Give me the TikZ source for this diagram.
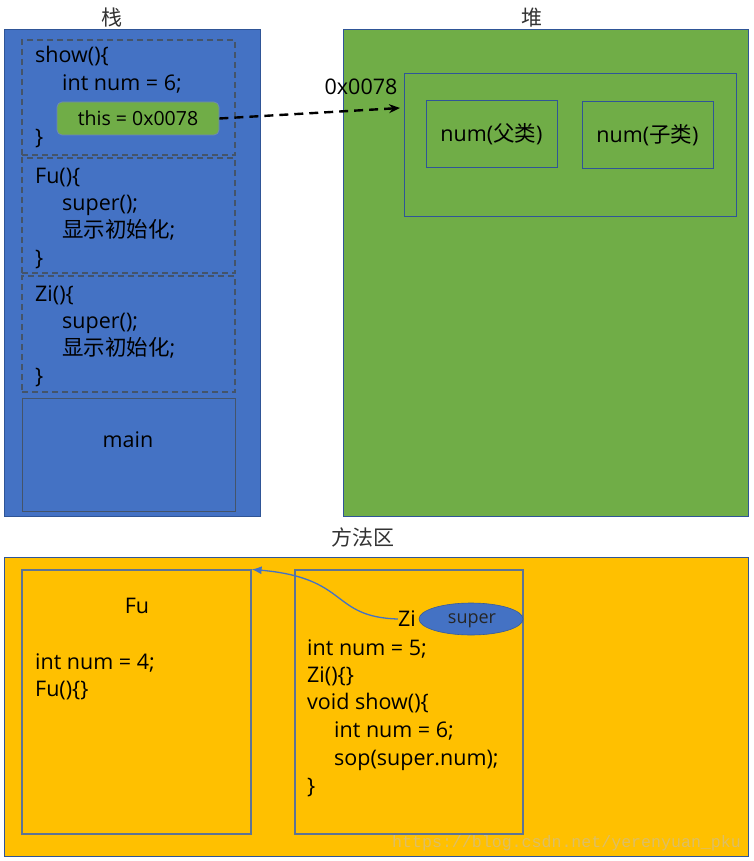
\documentclass[tikz,border=0pt]{standalone}
\usepackage{fontspec}
\setmainfont{Open Sans}
\newfontfamily\cjk{Noto Sans CJK SC}
\newfontfamily\wmfont{Liberation Mono}
\usetikzlibrary{arrows.meta,shapes.geometric}
\definecolor{stackblue}{HTML}{4472C4}
\definecolor{heapgreen}{HTML}{70AD47}
\definecolor{methyellow}{HTML}{FFC000}
\definecolor{edgeblue}{HTML}{2F5597}
\definecolor{dashgray}{HTML}{44546A}
\definecolor{boxgray}{HTML}{5E7494}
\definecolor{wmcolor}{HTML}{DDBE66}
\tikzset{
  region/.style={draw=edgeblue, line width=0.9pt, inner sep=0pt},
  frame/.style={draw=dashgray, line width=1.4pt, dash pattern=on 6pt off 4pt, inner sep=0pt},
  innerbox/.style={draw=edgeblue, line width=1pt, inner sep=0pt},
  mbox/.style={draw=boxgray, line width=1.2pt, inner sep=0pt},
  code/.style={anchor=base west, inner sep=0pt, font=\fontsize{21.5}{24}\selectfont},
  label/.style={inner sep=0pt, font=\fontsize{21.5}{24}\selectfont},
  title/.style={inner sep=0pt, text=black!80, font=\cjk\fontsize{21}{24}\selectfont},
}
\begin{document}
\begin{tikzpicture}[x=1pt,y=-1pt]
\useasboundingbox[fill=white] (0,0) rectangle (753,861);
% titles
\node[title] (tstack) at (112,18) {栈};
\node[title] (theap) at (532,18) {堆};
\node[title] (tmeth) at (363,537) {方法区};
% stack
\node[region, fill=stackblue, minimum width=256pt, minimum height=487pt] (stack) at (132,272.5) {};
\node[frame, minimum width=213pt, minimum height=115pt] (fshow) at (128.5,97.5) {};
\node[frame, minimum width=213pt, minimum height=115pt] (ffu) at (128.5,215.5) {};
\node[frame, minimum width=213pt, minimum height=116pt] (fzi) at (128.5,334) {};
\node[draw=dashgray, line width=0.9pt, minimum width=213pt, minimum height=113pt, inner sep=0pt] (fmain) at (128.5,454.5) {};
\node[code] (s1) at (35,63) {show()\{};
\node[code] (s2) at (62,91) {int num = 6;};
\node[draw=edgeblue!70, fill=heapgreen, rounded corners=5pt, line width=0.8pt, minimum width=162pt, minimum height=33pt, inner sep=0pt, font=\fontsize{19.5}{22}\selectfont] (this) at (138,118.5) {this = 0x0078};
\node[code] (s3) at (35,145) {\}};
\node[code] (f1) at (35,183) {Fu()\{};
\node[code] (f2) at (62,210) {super();};
\node[code] (f3) at (62,237) {{\cjk 显示初始化};};
\node[code] (f4) at (35,265) {\}};
\node[code] (z1) at (35,301) {Zi()\{};
\node[code] (z2) at (62,328) {super();};
\node[code] (z3) at (62,355) {{\cjk 显示初始化};};
\node[code] (z4) at (35,383) {\}};
\node[label] (main) at (128,440) {main};
% heap
\node[region, fill=heapgreen, minimum width=405pt, minimum height=487pt] (heap) at (545.5,272.5) {};
\node[innerbox, minimum width=332pt, minimum height=142pt] (obj) at (570,145) {};
\node[innerbox, minimum width=131pt, minimum height=67pt, font=\fontsize{21.5}{24}\selectfont] (fnum) at (491.5,134.5) {num({\cjk 父类})};
\node[innerbox, minimum width=131pt, minimum height=67pt, font=\fontsize{21.5}{24}\selectfont] (znum) at (647.5,135.5) {num({\cjk 子类})};
\node[label] (addr) at (361,87) {0x0078};
\coordinate (objin) at (400,108);
\draw[line width=2.4pt, dash pattern=on 9pt off 6pt, -{Stealth[length=11pt,width=9pt]}] (this.east) -- (objin);
% method area
\node[region, fill=methyellow, minimum width=744pt, minimum height=299pt] (meth) at (376,706.5) {};
\node[mbox, minimum width=229pt, minimum height=264pt] (fubox) at (136.5,702) {};
\node[mbox, minimum width=228pt, minimum height=264pt] (zibox) at (409,702) {};
\node[label] (futitle) at (137,606) {Fu};
\node[code] (m1) at (35,669) {int num = 4;};
\node[code] (m2) at (35,696) {Fu()\{\}};
\node[ellipse, fill=stackblue, draw=stackblue!80!black, line width=0.6pt, minimum width=104pt, minimum height=32pt, inner sep=0pt] (super) at (471,619) {};
\node[inner sep=0pt, font=\fontsize{18}{20}\selectfont, text=black!85] (supertext) at (472,621) {super};
\node[label] (zititle) at (407,619) {Zi};
\node[code] (n1) at (307,655) {int num = 5;};
\node[code] (n2) at (307,682) {Zi()\{\}};
\node[code] (n3) at (307,709) {void show()\{};
\node[code] (n4) at (334,737) {int num = 6;};
\node[code] (n5) at (334,765) {sop(super.num);};
\node[code] (n6) at (307,793) {\}};
\draw[stackblue, line width=1.3pt, -{Latex[length=10pt,width=8pt]}] (zititle.west) .. controls (330,617) and (350,578) .. (fubox.north east);
\node[anchor=base west, inner sep=0pt, text=wmcolor, font=\wmfont\fontsize{16.6}{20}\selectfont] (wm) at (392,847) {https://blog.csdn.net/yerenyuan\_pku};
\end{tikzpicture}
\end{document}
